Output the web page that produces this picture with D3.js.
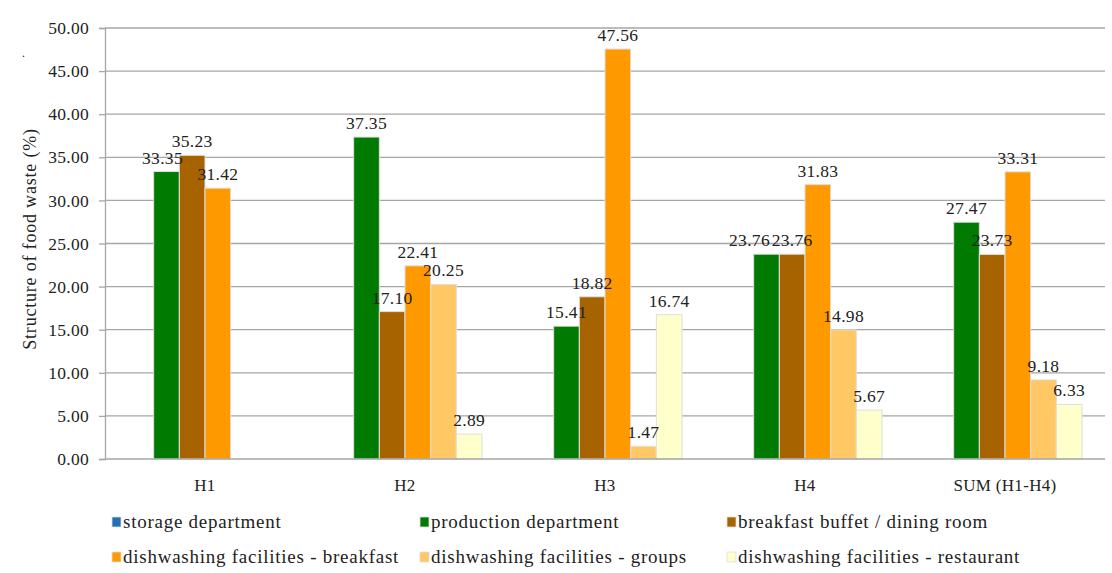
<!DOCTYPE html>
<html>
<head>
<meta charset="utf-8">
<script src="https://cdn.jsdelivr.net/npm/d3@7"></script>
<style>
  body { margin: 0; background: #fff; }
  svg { display: block; }
  svg text { font-family: "Liberation Serif", "Times New Roman", "DejaVu Serif", serif; }
</style>
</head>
<body>
<div id="chart"></div>
<script>
// Data
const categories = ["H1", "H2", "H3", "H4", "SUM (H1-H4)"];
const seriesNames = [
    "storage department",
    "production department",
    "breakfast buffet / dining room",
    "dishwashing facilities - breakfast",
    "dishwashing facilities - groups",
    "dishwashing facilities - restaurant"
];
const storage = [null, null, null, null, null];
const production = [33.35, 37.35, 15.41, 23.76, 27.47];
const breakfastBuffet = [35.23, 17.10, 18.82, 23.76, 23.73];
const dishBreakfast = [31.42, 22.41, 47.56, 31.83, 33.31];
const dishGroups = [null, 20.25, 1.47, 14.98, 9.18];
const dishRestaurant = [null, 2.89, 16.74, 5.67, 6.33];
const yTicks = [0, 5, 10, 15, 20, 25, 30, 35, 40, 45, 50];

const seriesValues = [storage, production, breakfastBuffet, dishBreakfast, dishGroups, dishRestaurant];
const colors = ["#2470b5", "#007a00", "#a66300", "#ff9900", "#ffc864", "#ffffcc"];

const width = 1112, height = 573;
const margin = {top: 28, right: 7, bottom: 114, left: 105};
const innerWidth = width - margin.left - margin.right;
const innerHeight = height - margin.top - margin.bottom;

const svg = d3.select("#chart")
    .append("svg")
    .attr("width", width)
    .attr("height", height);

const chartGroup = svg.append("g")
    .attr("transform", `translate(${margin.left},${margin.top})`);

// Scales
const x0 = d3.scaleBand()
    .domain(categories)
    .range([0, innerWidth]);

const x1 = d3.scaleBand()
    .domain(seriesNames)
    .range([23, x0.bandwidth() - 23]);

const y = d3.scaleLinear()
    .domain([0, 50])
    .range([innerHeight, 0]);

// Gridlines
chartGroup.selectAll("line.grid")
    .data(yTicks.slice(1))
    .join("line")
    .attr("class", "grid")
    .attr("x1", 0)
    .attr("x2", innerWidth)
    .attr("y1", d => y(d))
    .attr("y2", d => y(d))
    .attr("stroke", "#a6a6a6")
    .attr("stroke-width", 1.3);

// Y-axis
const yAxis = chartGroup.append("g")
    .call(d3.axisLeft(y).tickValues(yTicks).tickFormat(d3.format(".2f")).tickSize(6).tickPadding(10));
yAxis.attr("font-family", null);
yAxis.select(".domain").attr("stroke", "#a6a6a6").attr("stroke-width", 1.3);
yAxis.selectAll(".tick line").attr("stroke", "#a6a6a6").attr("stroke-width", 1.3);
yAxis.selectAll("text")
    .style("font-size", "17.5px")
    .style("letter-spacing", "0.3px")
    .style("fill", "#222");

// Bars
const groups = chartGroup.selectAll("g.cat")
    .data(categories)
    .join("g")
    .attr("class", "cat")
    .attr("transform", d => `translate(${x0(d)},0)`);

const barData = (c, i) => seriesNames.map((s, k) => ({series: s, k: k, cat: c, value: seriesValues[k][i]}))
    .filter(d => d.value != null);

groups.selectAll("rect")
    .data(barData)
    .join("rect")
    .attr("x", d => x1(d.series))
    .attr("y", d => y(d.value))
    .attr("width", x1.bandwidth())
    .attr("height", d => innerHeight - y(d.value))
    .attr("fill", d => colors[d.k])
    .attr("stroke", "#dedede")
    .attr("stroke-width", 1);

// Value labels (equal neighbouring labels in H4 pushed apart)
const nudge = d => (d.cat === "H4" && d.k === 1) ? -17 : (d.cat === "H1" && d.k === 1) ? -4 : 0;
groups.selectAll("text.value")
    .data(barData)
    .join("text")
    .attr("class", "value")
    .attr("x", d => x1(d.series) + x1.bandwidth() / 2 + nudge(d))
    .attr("y", d => y(d.value) - 8)
    .attr("text-anchor", "middle")
    .style("font-size", "17.5px")
    .style("letter-spacing", "0.3px")
    .style("fill", "#222")
    .text(d => d.value.toFixed(2));

// X-axis baseline
chartGroup.append("line")
    .attr("x1", 0)
    .attr("x2", innerWidth)
    .attr("y1", innerHeight)
    .attr("y2", innerHeight)
    .attr("stroke", "#a6a6a6")
    .attr("stroke-width", 1.3);

// X-axis labels
chartGroup.selectAll("text.cat-label")
    .data(categories)
    .join("text")
    .attr("class", "cat-label")
    .attr("x", d => x0(d) + x0.bandwidth() / 2)
    .attr("y", innerHeight + 32)
    .attr("text-anchor", "middle")
    .style("font-size", "17px")
    .style("letter-spacing", "0.3px")
    .style("fill", "#222")
    .text(d => d);

// Y-axis label
svg.append("text")
    .attr("transform", `translate(36,239) rotate(-90)`)
    .attr("text-anchor", "middle")
    .style("font-size", "18px")
    .style("letter-spacing", "0.8px")
    .style("fill", "#222")
    .text("Structure of food waste (%)");

svg.append("text")
    .attr("x", 22)
    .attr("y", 57)
    .style("font-size", "12px")
    .style("fill", "#222")
    .text(".");

// Legend
const legendX = [112, 420, 727];
const legendY = [522, 557];
const legend = svg.selectAll("g.legend")
    .data(seriesNames)
    .join("g")
    .attr("class", "legend")
    .attr("transform", (d, i) => `translate(${legendX[i % 3]},${legendY[Math.floor(i / 3)]})`);

legend.append("rect")
    .attr("x", 0)
    .attr("y", -5)
    .attr("width", 9)
    .attr("height", 10)
    .attr("fill", (d, i) => colors[i])
    .attr("stroke", "#dedede")
    .attr("stroke-width", 0.8);

legend.append("text")
    .attr("x", 11)
    .attr("y", 6)
    .style("font-size", "19px")
    .style("letter-spacing", "0.75px")
    .style("fill", "#222")
    .text(d => d);
</script>
</body>
</html>
